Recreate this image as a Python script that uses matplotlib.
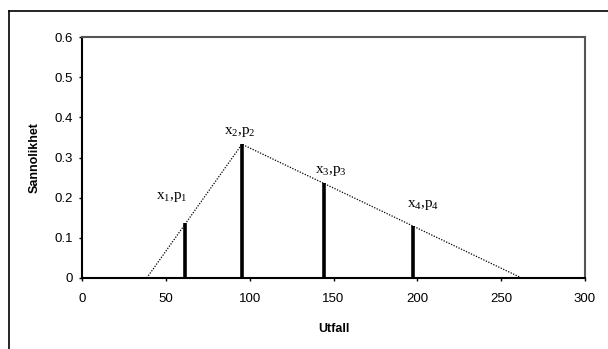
import matplotlib
matplotlib.use("Agg")
import matplotlib.pyplot as plt
from matplotlib.lines import Line2D

plt.rcParams['font.family'] = ['Liberation Sans', 'DejaVu Sans']
plt.rcParams['mathtext.fontset'] = 'custom'
plt.rcParams['mathtext.rm'] = 'Liberation Serif'
plt.rcParams['mathtext.it'] = 'Liberation Serif'

# outcomes and probabilities
utfall = [61.4, 95.4, 144.3, 197.4]
sannolikhet = [0.138, 0.333, 0.236, 0.130]
labels = [r'$\mathrm{x_1{,}p_1}$', r'$\mathrm{x_2{,}p_2}$', r'$\mathrm{x_3{,}p_3}$', r'$\mathrm{x_4{,}p_4}$']
label_x = [53.7, 94.2, 148.5, 203.3]
label_y = [0.202, 0.364, 0.266, 0.182]

# triangle outline (dotted)
tri_x = [38.6, 95.4, 262.2]
tri_y = [0.0, 0.333, 0.0]

fig = plt.figure(figsize=(6.08, 3.49), dpi=100)
ax = fig.add_axes([82/608, 1 - 278/349, (585-82)/608, (278-37)/349])

ax.plot(tri_x, tri_y, color='black', linestyle=(0, (1, 1.2)), linewidth=0.9)
ax.vlines(utfall, 0, sannolikhet, color='black', linewidth=2.6)

for t, x, y in zip(labels, label_x, label_y):
    ax.text(x, y, t, ha='center', va='center', fontsize=11)

ax.set_xlim(0, 300)
ax.set_ylim(0, 0.6)
ax.set_xticks([0, 50, 100, 150, 200, 250, 300])
ax.set_yticks([0, 0.1, 0.2, 0.3, 0.4, 0.5, 0.6])
ax.set_yticklabels(['0', '0.1', '0.2', '0.3', '0.4', '0.5', '0.6'])
ax.tick_params(labelsize=9.5, length=2.5, width=1, direction='out')
ax.tick_params(axis='y', pad=4)
ax.tick_params(axis='x', pad=8)
ax.set_xlabel('Utfall', fontsize=9, fontweight='bold', labelpad=13)
ax.set_ylabel('Sannolikhet', fontsize=9, fontweight='bold', labelpad=10)

for s in ['left', 'bottom']:
    ax.spines[s].set_color('black')
    ax.spines[s].set_linewidth(1.5)
for s in ['top', 'right']:
    ax.spines[s].set_color('#555555')
    ax.spines[s].set_linewidth(1.5)

# outer chart-area border (only top and left edges visible)
fig.add_artist(Line2D([9/608, 9/608], [0, 1 - 11/349], color='black', linewidth=1.2))
fig.add_artist(Line2D([9/608, 1], [1 - 11/349, 1 - 11/349], color='black', linewidth=1.2))

fig.savefig('out.png', dpi=100)
